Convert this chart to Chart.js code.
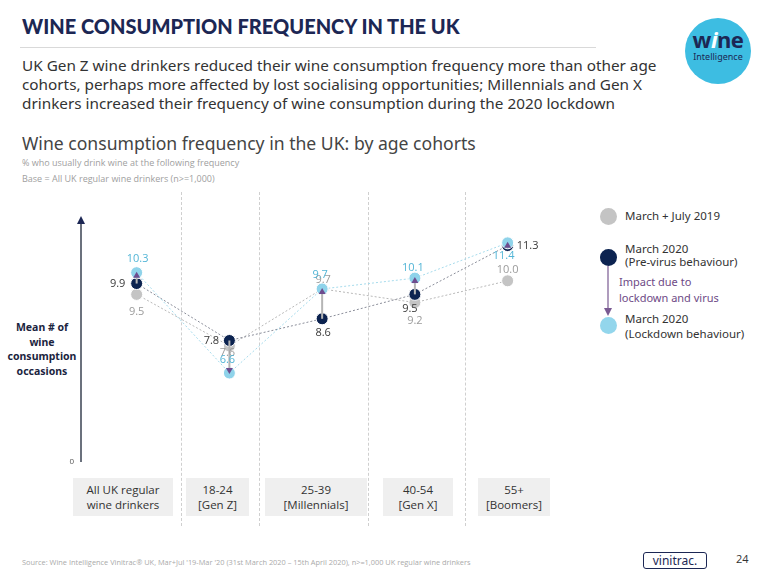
<!DOCTYPE html>
<html>
<head>
<meta charset="utf-8">
<script src="https://cdn.jsdelivr.net/npm/chart.js@4.4.0/dist/chart.umd.min.js"></script>
<style>
  body { margin: 0; width: 768px; height: 578px; overflow: hidden; background: #fff; position: relative; font-family: 'Noto Sans', sans-serif; }
  .abs { position: absolute; }
  #title { left: 22px; top: 14px; font: 900 20px Lato, sans-serif; color: #1c2754; white-space: nowrap; }
  #rule { left: 20px; top: 47px; width: 576px; height: 1px; background: #d9d9d9; }
  #sub { left: 22px; top: 56px; font-size: 15.3px; line-height: 19px; color: #333; width: 680px; }
  #ctitle { left: 22px; top: 131px; font-size: 17.6px; color: #444; white-space: nowrap; }
  #note { left: 22px; top: 155px; font: 9px 'Open Sans', sans-serif; line-height: 16px; color: #a0a0a0; }
  #logo { left: 685px; top: 18px; width: 66px; height: 66px; border-radius: 50%; background: #3dbde2; text-align: center; color: #1c2754; }
  #logo .w { font: 700 22px 'Noto Sans', sans-serif; margin-top: 9px; line-height: 24px; letter-spacing: -0.5px; }
  #logo .w i { color: #fff; }
  #logo .s { font-size: 9px; line-height: 11px; }
  #ylab { left: 0; top: 320px; width: 84px; text-align: center; font: 700 10.5px 'Noto Sans', sans-serif; line-height: 14.5px; color: #1b2440; }
  .sep { top: 192px; height: 334px; width: 0; border-left: 1px dashed #cfcfcf; }
  .box { top: 478px; height: 38px; background: #efefef; font: 11.5px 'Open Sans', sans-serif; color: #333; text-align: center; line-height: 15px; display: flex; flex-direction: column; justify-content: center; }
  .dot { width: 17px; height: 17px; border-radius: 50%; }
  .lg { font-size: 11.5px; color: #333; line-height: 13px; white-space: nowrap; }
  #src { left: 22px; top: 557px; font: 7.4px 'Open Sans', sans-serif; color: #aaa; white-space: nowrap; }
  #vini { left: 643px; top: 552px; width: 62px; height: 15px; border: 1.5px solid #1c2754; border-radius: 3px; font: 12px 'Noto Sans', sans-serif; color: #1c2754; text-align: center; line-height: 15px; }
  #page { left: 736px; top: 551px; font: 11px 'Open Sans', sans-serif; color: #333; }
  canvas { position: absolute; left: 0; top: 0; }
</style>
</head>
<body>
<div id="title" class="abs">WINE CONSUMPTION FREQUENCY IN THE UK</div>
<div id="rule" class="abs"></div>
<div id="sub" class="abs">UK Gen Z wine drinkers reduced their wine consumption frequency more than other age cohorts, perhaps more affected by lost socialising opportunities; Millennials and Gen X drinkers increased their frequency of wine consumption during the 2020 lockdown</div>
<div id="ctitle" class="abs">Wine consumption frequency in the UK: by age cohorts</div>
<div id="note" class="abs">% who usually drink wine at the following frequency<br>Base = All UK regular wine drinkers (n&gt;=1,000)</div>
<div id="logo" class="abs"><div class="w">w<i>i</i>ne</div><div class="s">Intelligence</div></div>
<div id="ylab" class="abs">Mean # of<br>wine<br>consumption<br>occasions</div>
<div id="seps"></div>
<div id="boxes"></div>

<div class="abs dot" style="left:600px;top:208px;background:#c4c4c4"></div>
<div class="abs lg" id="lg0" style="left:625px;top:209px"></div>
<div class="abs dot" style="left:600px;top:249px;background:#0c2350"></div>
<div class="abs lg" id="lg1" style="left:625px;top:242px"></div>
<svg class="abs" style="left:600px;top:262px" width="16" height="58">
  <line x1="8" y1="4" x2="8" y2="48" stroke="#7a5a92" stroke-width="1.2"/>
  <polygon points="4,46 12,46 8,54" fill="#7a5a92"/>
</svg>
<div class="abs lg" style="left:619px;top:274px;color:#6e4a86;font-size:11px;line-height:16px">Impact due to<br>lockdown and virus</div>
<div class="abs dot" style="left:600px;top:317px;background:#93d6ec"></div>
<div class="abs lg" id="lg2" style="left:625px;top:311px;line-height:15px"></div>

<div id="src" class="abs">Source: Wine Intelligence Vinitrac® UK, Mar+Jul '19-Mar '20 (31st March 2020 – 15th April 2020), n&gt;=1,000 UK regular wine drinkers</div>
<div id="vini" class="abs">vinitrac.</div>
<div id="page" class="abs">24</div>

<canvas id="chart" width="768" height="578"></canvas>

<script>
// categories (two lines each)
const categories = [
    ['All UK regular', 'wine drinkers'],
    ['18-24', '[Gen Z]'],
    ['25-39', '[Millennials]'],
    ['40-54', '[Gen X]'],
    ['55+', '[Boomers]']
];
const seriesNames = [
    ['March + July 2019'],
    ['March 2020', '(Pre-virus behaviour)'],
    ['March 2020', '(Lockdown behaviour)']
];
const values2019 = [9.5, 7.6, 9.7, 9.2, 10.0];
const valuesPreVirus = [9.9, 7.8, 8.6, 9.5, 11.3];
const valuesLockdown = [10.3, 6.6, 9.7, 10.1, 11.4];
const yTickLabels = ['0'];

// layout bits (html)
const sepX = [181, 259, 368, 465];
const boxLeft = [73, 186, 265, 383, 478];
const boxWidth = [100, 63, 102, 70, 72];

sepX.forEach(x => {
    const d = document.createElement('div');
    d.className = 'abs sep';
    d.style.left = x + 'px';
    document.getElementById('seps').appendChild(d);
});
categories.forEach((c, i) => {
    const d = document.createElement('div');
    d.className = 'abs box';
    d.style.left = boxLeft[i] + 'px';
    d.style.width = boxWidth[i] + 'px';
    d.innerHTML = c.join('<br>');
    document.getElementById('boxes').appendChild(d);
});
seriesNames.forEach((n, i) => {
    document.getElementById('lg' + i).innerHTML = n.join('<br>');
});

// label offsets [dx, dy] per point
const offLockdown = [[1, -14], [-2, -13], [-2, -14], [-2, -10], [-4, 13]];
const offPreVirus = [[-19, 0], [-18, 0], [1, 14], [-5, 14], [20, 0]];
const off2019 = [[0, 17], [-2, 7], [1, -9], [0, 18], [0, -11]];

const toXY = arr => arr.map((v, i) => ({ x: i, y: v }));

const overlay = {
    id: 'overlay',
    afterDatasetsDraw(chart) {
        const { ctx, chartArea, scales: { x, y } } = chart;
        ctx.save();
        // y axis with arrow
        const ax = chartArea.left;
        const y0 = y.getPixelForValue(y.min);
        ctx.strokeStyle = '#3a4252';
        ctx.lineWidth = 1.5;
        ctx.beginPath();
        ctx.moveTo(ax, y0);
        ctx.lineTo(ax, chartArea.top + 6);
        ctx.stroke();
        ctx.fillStyle = '#1c2754';
        ctx.beginPath();
        ctx.moveTo(ax, chartArea.top);
        ctx.lineTo(ax - 4, chartArea.top + 8);
        ctx.lineTo(ax + 4, chartArea.top + 8);
        ctx.closePath();
        ctx.fill();
        ctx.font = '8px "Open Sans"';
        ctx.fillStyle = '#555';
        ctx.textAlign = 'right';
        ctx.textBaseline = 'middle';
        ctx.fillText(yTickLabels[0], ax - 7, y0);

        // impact arrows
        valuesPreVirus.forEach((v, i) => {
            const px = x.getPixelForValue(i);
            const from = y.getPixelForValue(v);
            const to = y.getPixelForValue(valuesLockdown[i]);
            const dir = to < from ? -1 : 1;
            const tip = to + dir * 1;
            const base = tip - dir * 6;
            ctx.strokeStyle = '#b5b5b5';
            ctx.lineWidth = 2;
            ctx.beginPath();
            ctx.moveTo(px, from);
            ctx.lineTo(px, base);
            ctx.stroke();
            ctx.fillStyle = '#6d4c8e';
            ctx.beginPath();
            ctx.moveTo(px, tip);
            ctx.lineTo(px - 3.5, base);
            ctx.lineTo(px + 3.5, base);
            ctx.closePath();
            ctx.fill();
        });

        // value labels
        ctx.font = '11px "Open Sans"';
        ctx.textAlign = 'center';
        const drawLabels = (vals, offs, color) => {
            ctx.fillStyle = color;
            vals.forEach((v, i) => {
                ctx.fillText(v.toFixed(1), x.getPixelForValue(i) + offs[i][0], y.getPixelForValue(v) + offs[i][1]);
            });
        };
        drawLabels(values2019, off2019, '#9b9b9b');
        drawLabels(valuesPreVirus, offPreVirus, '#3a3a3a');
        drawLabels(valuesLockdown, offLockdown, '#52b5d6');
        ctx.restore();
    }
};

new Chart(document.getElementById('chart'), {
    type: 'line',
    data: {
        datasets: [
            {
                label: seriesNames[2].join(' '),
                data: toXY(valuesLockdown),
                borderColor: '#a6dbec',
                backgroundColor: '#8fd3ea',
                pointBackgroundColor: '#8fd3ea',
                pointBorderColor: '#ffffff',
                borderWidth: 1,
                borderDash: [2, 2],
                pointRadius: 6,
                pointBorderWidth: 1
            },
            {
                label: seriesNames[1].join(' '),
                data: toXY(valuesPreVirus),
                borderColor: '#8a8d99',
                backgroundColor: '#0c2350',
                pointBackgroundColor: '#0c2350',
                pointBorderColor: '#ffffff',
                borderWidth: 1,
                borderDash: [2, 2],
                pointRadius: 6,
                pointBorderWidth: 1
            },
            {
                label: seriesNames[0].join(' '),
                data: toXY(values2019),
                borderColor: '#b8b8b8',
                backgroundColor: '#c4c4c4',
                pointBackgroundColor: '#c4c4c4',
                pointBorderColor: '#ffffff',
                borderWidth: 1,
                borderDash: [2, 2],
                pointRadius: 6,
                pointBorderWidth: 1
            }
        ]
    },
    options: {
        responsive: false,
        animation: false,
        layout: { padding: { left: 81, right: 214, top: 216, bottom: 116 } },
        plugins: { legend: { display: false }, tooltip: { enabled: false } },
        scales: {
            x: { type: 'linear', min: -0.6, max: 4.5, display: false },
            y: { type: 'linear', min: 3.32, max: 12.39, display: false }
        }
    },
    plugins: [overlay]
});
</script>
</body>
</html>
